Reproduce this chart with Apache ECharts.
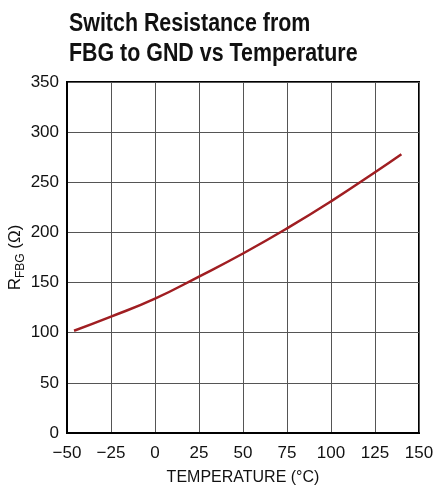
<!DOCTYPE html>
<html>
<head>
<meta charset="utf-8">
<script src="https://cdn.jsdelivr.net/npm/echarts@6/dist/echarts.min.js"></script>
<style>
html,body{margin:0;padding:0;background:#fff;}
#c{width:439px;height:487px;}
</style>
</head>
<body>
<div id="c"></div>
<script>
const temperature = [-46, -25, 0, 25, 50, 75, 100, 125, 140];
const resistance = [102, 116, 134, 156, 179, 204, 231, 260, 278];
const xTicks = [-50, 150, 25];
const yTicks = [0, 350, 50];
const titleText = 'Switch Resistance from\nFBG to GND vs Temperature';
const xName = 'TEMPERATURE (°C)';

const FONT = '"Liberation Sans", Arial, sans-serif';
const chart = echarts.init(document.getElementById('c'));
chart.setOption({
  animation: false,
  backgroundColor: '#fff',
  graphic: [{
    type: 'text', x: 69, y: 9, scaleX: 0.823, scaleY: 1,
    style: {
      text: titleText, x: 0, y: 0,
      font: 'bold 26px ' + FONT, lineHeight: 30,
      fill: '#111', verticalAlign: 'top', align: 'left'
    }
  }],
  grid: {left: 67, right: 20, top: 82, bottom: 54, outerBoundsMode: 'none', containLabel: false,
    show: true, borderColor: '#000', borderWidth: 2, backgroundColor: 'transparent'},
  xAxis: {
    type: 'value', min: xTicks[0], max: xTicks[1], interval: xTicks[2],
    name: xName, nameLocation: 'middle', nameGap: 37, nameMoveOverlap: false,
    nameTextStyle: {fontFamily: FONT, fontSize: 16, color: '#111'},
    axisLine: {show: true, onZero: false, lineStyle: {color: '#000', width: 2}},
    axisTick: {show: false},
    axisLabel: {fontFamily: FONT, fontSize: 17, color: '#111', margin: 12,
      formatter: v => String(v).replace('-', '\u2212')},
    splitLine: {show: true, lineStyle: {color: '#555', width: 1}}
  },
  yAxis: {
    type: 'value', min: yTicks[0], max: yTicks[1], interval: yTicks[2],
    name: '{a|R}{b|FBG}{a| (Ω)}', nameLocation: 'middle', nameGap: 43, nameMoveOverlap: false,
    nameTextStyle: {
      fontFamily: FONT, color: '#111',
      rich: {
        a: {fontFamily: FONT, fontSize: 17, color: '#111', lineHeight: 20, verticalAlign: 'bottom'},
        b: {fontFamily: FONT, fontSize: 12, color: '#111', lineHeight: 20, verticalAlign: 'bottom', padding: [0, 0, -3, 0]}
      }
    },
    axisLine: {show: true, onZero: false, lineStyle: {color: '#000', width: 2}},
    axisTick: {show: false},
    axisLabel: {fontFamily: FONT, fontSize: 17, color: '#111', margin: 8},
    splitLine: {show: true, lineStyle: {color: '#555', width: 1}}
  },
  series: [{
    type: 'line',
    data: temperature.map((t, i) => [t, resistance[i]]),
    smooth: true,
    showSymbol: false,
    lineStyle: {color: '#a01e22', width: 2.5}
  }]
});
</script>
</body>
</html>
